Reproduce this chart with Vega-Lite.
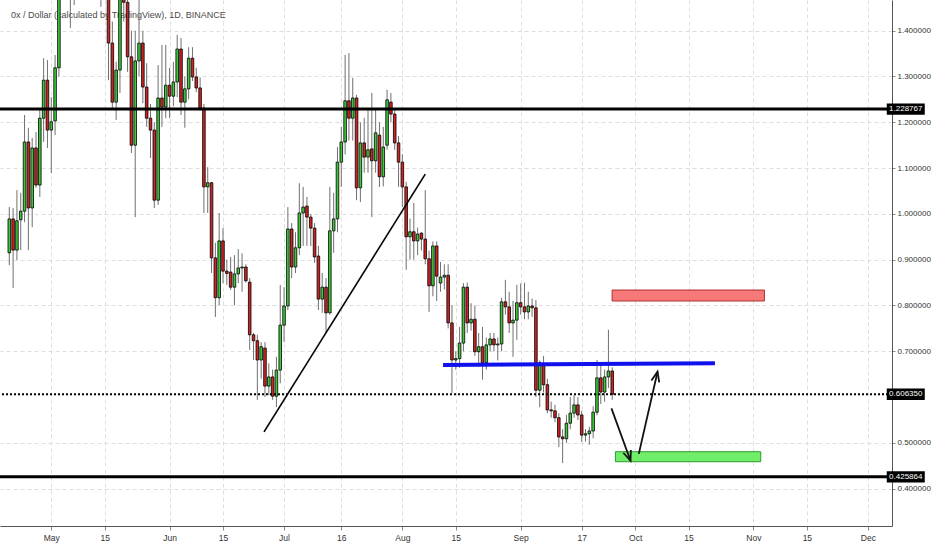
{
"$schema": "https://vega.github.io/schema/vega-lite/v6.json",
"width": 892, "height": 526,
"autosize": {"type": "none"},
"padding": {"left": 0, "top": 0, "right": 40, "bottom": 24},
"background": "white",
"config": {"view": {"stroke": null}, "font": "Liberation Sans"},
"datasets": {
"candles": [
{"t":"2018-04-20","o":0.915,"h":1.015,"l":0.888,"c":0.989},
{"t":"2018-04-21","o":0.989,"h":1.013,"l":0.838,"c":0.921},
{"t":"2018-04-22","o":0.921,"h":1.052,"l":0.899,"c":0.985},
{"t":"2018-04-23","o":0.987,"h":1.046,"l":0.921,"c":1.006},
{"t":"2018-04-24","o":1.006,"h":1.216,"l":0.982,"c":1.157},
{"t":"2018-04-25","o":1.157,"h":1.188,"l":0.921,"c":1.013},
{"t":"2018-04-26","o":1.013,"h":1.166,"l":0.971,"c":1.144},
{"t":"2018-04-27","o":1.144,"h":1.179,"l":1.057,"c":1.063},
{"t":"2018-04-28","o":1.063,"h":1.227,"l":1.037,"c":1.209},
{"t":"2018-04-29","o":1.209,"h":1.340,"l":1.157,"c":1.292},
{"t":"2018-04-30","o":1.292,"h":1.336,"l":1.144,"c":1.183},
{"t":"2018-05-01","o":1.183,"h":1.255,"l":1.089,"c":1.201},
{"t":"2018-05-02","o":1.203,"h":1.347,"l":1.172,"c":1.319},
{"t":"2018-05-03","o":1.319,"h":1.60,"l":1.30,"c":1.55},
{"t":"2018-05-04","o":1.55,"h":1.85,"l":1.50,"c":1.75},
{"t":"2018-05-05","o":1.75,"h":2.10,"l":1.70,"c":2.00},
{"t":"2018-05-06","o":2.00,"h":2.20,"l":1.406,"c":1.85},
{"t":"2018-05-07","o":1.85,"h":2.30,"l":1.456,"c":2.10},
{"t":"2018-05-08","o":2.10,"h":2.45,"l":2.00,"c":2.30},
{"t":"2018-05-09","o":2.30,"h":2.40,"l":2.05,"c":2.15},
{"t":"2018-05-10","o":2.15,"h":2.25,"l":1.90,"c":2.00},
{"t":"2018-05-11","o":2.00,"h":2.10,"l":1.80,"c":1.90},
{"t":"2018-05-12","o":1.90,"h":1.95,"l":1.70,"c":1.80},
{"t":"2018-05-13","o":1.80,"h":1.85,"l":1.60,"c":1.70},
{"t":"2018-05-14","o":1.70,"h":1.75,"l":1.452,"c":1.62},
{"t":"2018-05-15","o":1.62,"h":1.66,"l":1.48,"c":1.50},
{"t":"2018-05-16","o":1.50,"h":1.55,"l":1.292,"c":1.373},
{"t":"2018-05-17","o":1.373,"h":1.42,"l":1.227,"c":1.244},
{"t":"2018-05-18","o":1.244,"h":1.332,"l":1.205,"c":1.314},
{"t":"2018-05-19","o":1.314,"h":1.55,"l":1.264,"c":1.50},
{"t":"2018-05-20","o":1.50,"h":1.55,"l":1.42,"c":1.462},
{"t":"2018-05-21","o":1.462,"h":1.48,"l":1.310,"c":1.343},
{"t":"2018-05-22","o":1.343,"h":1.40,"l":1.133,"c":1.150},
{"t":"2018-05-23","o":1.150,"h":1.40,"l":0.993,"c":1.334},
{"t":"2018-05-24","o":1.334,"h":1.47,"l":1.30,"c":1.373},
{"t":"2018-05-25","o":1.373,"h":1.40,"l":1.242,"c":1.277},
{"t":"2018-05-26","o":1.277,"h":1.329,"l":1.190,"c":1.209},
{"t":"2018-05-27","o":1.209,"h":1.24,"l":1.122,"c":1.183},
{"t":"2018-05-28","o":1.183,"h":1.20,"l":1.013,"c":1.030},
{"t":"2018-05-29","o":1.030,"h":1.325,"l":1.02,"c":1.253},
{"t":"2018-05-30","o":1.253,"h":1.369,"l":1.190,"c":1.233},
{"t":"2018-05-31","o":1.233,"h":1.369,"l":1.209,"c":1.281},
{"t":"2018-06-01","o":1.281,"h":1.319,"l":1.209,"c":1.257},
{"t":"2018-06-02","o":1.257,"h":1.332,"l":1.235,"c":1.288},
{"t":"2018-06-03","o":1.288,"h":1.391,"l":1.255,"c":1.360},
{"t":"2018-06-04","o":1.360,"h":1.384,"l":1.216,"c":1.244},
{"t":"2018-06-05","o":1.244,"h":1.30,"l":1.188,"c":1.273},
{"t":"2018-06-06","o":1.273,"h":1.364,"l":1.25,"c":1.340},
{"t":"2018-06-07","o":1.340,"h":1.364,"l":1.29,"c":1.299},
{"t":"2018-06-08","o":1.299,"h":1.319,"l":1.266,"c":1.275},
{"t":"2018-06-09","o":1.275,"h":1.298,"l":1.226,"c":1.231},
{"t":"2018-06-10","o":1.231,"h":1.24,"l":1.002,"c":1.059},
{"t":"2018-06-11","o":1.059,"h":1.102,"l":1.002,"c":1.068},
{"t":"2018-06-12","o":1.068,"h":1.07,"l":0.871,"c":0.904},
{"t":"2018-06-13","o":0.904,"h":0.937,"l":0.775,"c":0.817},
{"t":"2018-06-14","o":0.817,"h":1.002,"l":0.801,"c":0.941},
{"t":"2018-06-15","o":0.941,"h":0.969,"l":0.849,"c":0.875},
{"t":"2018-06-16","o":0.875,"h":0.90,"l":0.845,"c":0.870},
{"t":"2018-06-17","o":0.873,"h":0.906,"l":0.834,"c":0.840},
{"t":"2018-06-18","o":0.840,"h":0.910,"l":0.801,"c":0.869},
{"t":"2018-06-19","o":0.869,"h":0.923,"l":0.849,"c":0.882},
{"t":"2018-06-20","o":0.882,"h":0.914,"l":0.830,"c":0.884},
{"t":"2018-06-21","o":0.884,"h":0.89,"l":0.85,"c":0.854},
{"t":"2018-06-22","o":0.851,"h":0.86,"l":0.703,"c":0.736},
{"t":"2018-06-23","o":0.736,"h":0.74,"l":0.681,"c":0.723},
{"t":"2018-06-24","o":0.723,"h":0.736,"l":0.594,"c":0.681},
{"t":"2018-06-25","o":0.681,"h":0.72,"l":0.64,"c":0.710},
{"t":"2018-06-26","o":0.707,"h":0.72,"l":0.600,"c":0.624},
{"t":"2018-06-27","o":0.624,"h":0.674,"l":0.604,"c":0.644},
{"t":"2018-06-28","o":0.644,"h":0.66,"l":0.594,"c":0.602},
{"t":"2018-06-29","o":0.602,"h":0.688,"l":0.578,"c":0.659},
{"t":"2018-06-30","o":0.659,"h":0.845,"l":0.63,"c":0.757},
{"t":"2018-07-01","o":0.757,"h":0.84,"l":0.72,"c":0.799},
{"t":"2018-07-02","o":0.799,"h":1.015,"l":0.79,"c":0.967},
{"t":"2018-07-03","o":0.967,"h":0.98,"l":0.86,"c":0.884},
{"t":"2018-07-04","o":0.884,"h":0.96,"l":0.871,"c":0.926},
{"t":"2018-07-05","o":0.926,"h":1.067,"l":0.91,"c":1.002},
{"t":"2018-07-06","o":1.002,"h":1.059,"l":0.93,"c":1.015},
{"t":"2018-07-07","o":1.017,"h":1.037,"l":0.93,"c":0.993},
{"t":"2018-07-08","o":0.993,"h":1.00,"l":0.93,"c":0.969},
{"t":"2018-07-09","o":0.969,"h":0.98,"l":0.893,"c":0.906},
{"t":"2018-07-10","o":0.908,"h":0.93,"l":0.790,"c":0.814},
{"t":"2018-07-11","o":0.814,"h":0.871,"l":0.784,"c":0.840},
{"t":"2018-07-12","o":0.840,"h":0.86,"l":0.740,"c":0.784},
{"t":"2018-07-13","o":0.784,"h":1.059,"l":0.78,"c":0.963},
{"t":"2018-07-14","o":0.963,"h":1.046,"l":0.915,"c":0.989},
{"t":"2018-07-15","o":0.989,"h":1.146,"l":0.96,"c":1.113},
{"t":"2018-07-16","o":1.113,"h":1.19,"l":1.059,"c":1.157},
{"t":"2018-07-17","o":1.157,"h":1.347,"l":1.13,"c":1.247},
{"t":"2018-07-18","o":1.247,"h":1.351,"l":1.16,"c":1.209},
{"t":"2018-07-19","o":1.209,"h":1.297,"l":1.16,"c":1.253},
{"t":"2018-07-20","o":1.253,"h":1.26,"l":1.030,"c":1.057},
{"t":"2018-07-21","o":1.057,"h":1.20,"l":1.026,"c":1.155},
{"t":"2018-07-22","o":1.155,"h":1.21,"l":1.09,"c":1.124},
{"t":"2018-07-23","o":1.124,"h":1.227,"l":1.09,"c":1.140},
{"t":"2018-07-24","o":1.142,"h":1.264,"l":0.993,"c":1.116},
{"t":"2018-07-25","o":1.116,"h":1.227,"l":1.09,"c":1.177},
{"t":"2018-07-26","o":1.172,"h":1.20,"l":1.059,"c":1.081},
{"t":"2018-07-27","o":1.081,"h":1.19,"l":1.06,"c":1.146},
{"t":"2018-07-28","o":1.150,"h":1.271,"l":1.14,"c":1.249},
{"t":"2018-07-29","o":1.244,"h":1.264,"l":1.20,"c":1.218},
{"t":"2018-07-30","o":1.218,"h":1.23,"l":1.14,"c":1.155},
{"t":"2018-07-31","o":1.155,"h":1.17,"l":1.059,"c":1.113},
{"t":"2018-08-01","o":1.113,"h":1.13,"l":1.015,"c":1.059},
{"t":"2018-08-02","o":1.059,"h":1.07,"l":0.878,"c":0.950},
{"t":"2018-08-03","o":0.950,"h":0.99,"l":0.90,"c":0.961},
{"t":"2018-08-04","o":0.961,"h":1.024,"l":0.90,"c":0.941},
{"t":"2018-08-05","o":0.941,"h":0.97,"l":0.91,"c":0.956},
{"t":"2018-08-06","o":0.958,"h":0.96,"l":0.92,"c":0.945},
{"t":"2018-08-07","o":0.945,"h":1.052,"l":0.89,"c":0.902},
{"t":"2018-08-08","o":0.902,"h":0.92,"l":0.786,"c":0.843},
{"t":"2018-08-09","o":0.843,"h":0.94,"l":0.82,"c":0.930},
{"t":"2018-08-10","o":0.930,"h":0.94,"l":0.81,"c":0.864},
{"t":"2018-08-11","o":0.849,"h":0.895,"l":0.83,"c":0.862},
{"t":"2018-08-12","o":0.862,"h":0.89,"l":0.835,"c":0.866},
{"t":"2018-08-13","o":0.866,"h":0.89,"l":0.75,"c":0.762},
{"t":"2018-08-14","o":0.762,"h":0.801,"l":0.609,"c":0.681},
{"t":"2018-08-15","o":0.681,"h":0.70,"l":0.66,"c":0.684},
{"t":"2018-08-16","o":0.684,"h":0.753,"l":0.664,"c":0.718},
{"t":"2018-08-17","o":0.718,"h":0.849,"l":0.70,"c":0.840},
{"t":"2018-08-18","o":0.840,"h":0.85,"l":0.740,"c":0.762},
{"t":"2018-08-19","o":0.762,"h":0.805,"l":0.745,"c":0.770},
{"t":"2018-08-20","o":0.770,"h":0.80,"l":0.69,"c":0.699},
{"t":"2018-08-21","o":0.699,"h":0.74,"l":0.667,"c":0.710},
{"t":"2018-08-22","o":0.710,"h":0.753,"l":0.638,"c":0.675},
{"t":"2018-08-23","o":0.675,"h":0.73,"l":0.66,"c":0.714},
{"t":"2018-08-24","o":0.714,"h":0.74,"l":0.70,"c":0.727},
{"t":"2018-08-25","o":0.727,"h":0.74,"l":0.70,"c":0.714},
{"t":"2018-08-26","o":0.714,"h":0.73,"l":0.680,"c":0.716},
{"t":"2018-08-27","o":0.716,"h":0.817,"l":0.70,"c":0.808},
{"t":"2018-08-28","o":0.808,"h":0.856,"l":0.780,"c":0.797},
{"t":"2018-08-29","o":0.797,"h":0.830,"l":0.740,"c":0.762},
{"t":"2018-08-30","o":0.762,"h":0.810,"l":0.688,"c":0.768},
{"t":"2018-08-31","o":0.768,"h":0.845,"l":0.725,"c":0.806},
{"t":"2018-09-01","o":0.806,"h":0.848,"l":0.780,"c":0.797},
{"t":"2018-09-02","o":0.797,"h":0.850,"l":0.770,"c":0.786},
{"t":"2018-09-03","o":0.786,"h":0.830,"l":0.770,"c":0.799},
{"t":"2018-09-04","o":0.799,"h":0.815,"l":0.775,"c":0.795},
{"t":"2018-09-05","o":0.795,"h":0.812,"l":0.600,"c":0.615},
{"t":"2018-09-06","o":0.615,"h":0.680,"l":0.578,"c":0.675},
{"t":"2018-09-07","o":0.670,"h":0.690,"l":0.610,"c":0.627},
{"t":"2018-09-08","o":0.627,"h":0.64,"l":0.565,"c":0.572},
{"t":"2018-09-09","o":0.572,"h":0.59,"l":0.555,"c":0.570},
{"t":"2018-09-10","o":0.570,"h":0.583,"l":0.545,"c":0.555},
{"t":"2018-09-11","o":0.555,"h":0.565,"l":0.491,"c":0.513},
{"t":"2018-09-12","o":0.513,"h":0.53,"l":0.456,"c":0.509},
{"t":"2018-09-13","o":0.509,"h":0.561,"l":0.50,"c":0.543},
{"t":"2018-09-14","o":0.543,"h":0.60,"l":0.53,"c":0.565},
{"t":"2018-09-15","o":0.565,"h":0.604,"l":0.555,"c":0.583},
{"t":"2018-09-16","o":0.583,"h":0.60,"l":0.55,"c":0.561},
{"t":"2018-09-17","o":0.561,"h":0.57,"l":0.502,"c":0.517},
{"t":"2018-09-18","o":0.517,"h":0.53,"l":0.503,"c":0.520},
{"t":"2018-09-19","o":0.520,"h":0.535,"l":0.496,"c":0.526},
{"t":"2018-09-20","o":0.526,"h":0.58,"l":0.51,"c":0.567},
{"t":"2018-09-21","o":0.567,"h":0.681,"l":0.56,"c":0.642},
{"t":"2018-09-22","o":0.642,"h":0.67,"l":0.585,"c":0.611},
{"t":"2018-09-23","o":0.611,"h":0.66,"l":0.59,"c":0.644},
{"t":"2018-09-24","o":0.644,"h":0.747,"l":0.62,"c":0.657},
{"t":"2018-09-25","o":0.657,"h":0.665,"l":0.594,"c":0.606}
],
"levels": [{"p":1.228767,"s":"solid"},{"p":0.60635,"s":"dot"},{"p":0.425864,"s":"solid"}],
"segs": [
{"k":"blue","t":"2018-08-11T16:00:00Z","p":0.670,"t2":"2018-10-21T22:00:00Z","p2":0.674},
{"k":"trend","t":"2018-06-25T18:00:00Z","p":0.524,"t2":"2018-08-07T00:00:00Z","p2":1.087},
{"k":"arrow","t":"2018-09-24T19:00:00Z","p":0.5755,"t2":"2018-09-29T19:00:00Z","p2":0.461},
{"k":"arrow","t":"2018-10-01T23:00:00Z","p":0.476,"t2":"2018-10-06T21:00:00Z","p2":0.6555}
],
"heads": [
{"t":"2018-09-29T19:00:00Z","p":0.461,"a":340},
{"t":"2018-10-06T21:00:00Z","p":0.6555,"a":193}
],
"zones": [
{"k":"sell","t":"2018-09-24T23:00:00Z","t2":"2018-11-03T21:00:00Z","p":0.8338,"p2":0.8098},
{"k":"buy","t":"2018-09-25T20:00:00Z","t2":"2018-11-02T22:00:00Z","p":0.4808,"p2":0.4589}
],
"ttl": [{"t":"2018-04-20T10:00:00Z","p":1.434,"s":"0x / Dollar (calculated by TradingView), 1D, BINANCE"}]
},
"layer": [
{"data":{"name":"ttl"},"mark":{"type":"text","align":"left","baseline":"middle","fontSize":9,"color":"#4a4a4a"},
 "encoding":{"x":{"field":"t","type":"temporal","title":null,"scale":{"type":"utc","domain":[{"year":2018,"month":4,"date":18,"hours":21,"utc":true},{"year":2018,"month":12,"date":6,"utc":true}]},
   "axis":{"values":[{"year":2018,"month":5,"date":1,"utc":true},{"year":2018,"month":5,"date":15,"utc":true},{"year":2018,"month":6,"date":1,"utc":true},{"year":2018,"month":6,"date":15,"utc":true},{"year":2018,"month":7,"date":1,"utc":true},{"year":2018,"month":7,"date":16,"utc":true},{"year":2018,"month":8,"date":1,"utc":true},{"year":2018,"month":8,"date":15,"utc":true},{"year":2018,"month":9,"date":1,"utc":true},{"year":2018,"month":9,"date":17,"utc":true},{"year":2018,"month":10,"date":1,"utc":true},{"year":2018,"month":10,"date":15,"utc":true},{"year":2018,"month":11,"date":1,"utc":true},{"year":2018,"month":11,"date":15,"utc":true},{"year":2018,"month":12,"date":1,"utc":true}],
     "labelExpr":"utcdate(datum.value) == 1 ? utcFormat(datum.value, '%b') : utcFormat(datum.value, '%-d')",
     "grid":true,"gridDash":[4,3],"gridColor":"#dedede","domainColor":"#555555","tickColor":"#888888","tickSize":4,"labelFontSize":8.5,"labelColor":"#333333","labelPadding":3,"labelFlush":false,"labelOverlap":false}},
  "y":{"field":"p","type":"quantitative","title":null,"scale":{"domain":[0.31855,1.46703],"nice":false,"zero":false},
   "axis":{"orient":"right","values":[0.4,0.5,0.7,0.8,0.9,1.0,1.1,1.2,1.3,1.4],"format":".6f","grid":true,"gridDash":[4,3],"gridColor":"#dedede","domainColor":"#555555","tickColor":"#888888","tickSize":3,"labelFontSize":8,"labelColor":"#333333","labelPadding":2}},
  "text":{"field":"s"}}},
{"data":{"name":"candles"},"mark":{"type":"rule","color":"#707070","strokeWidth":1,"clip":true},
 "encoding":{"x":{"field":"t","type":"temporal","title":null},"y":{"field":"l","type":"quantitative","title":null},"y2":{"field":"h"}}},
{"data":{"name":"candles"},"mark":{"type":"bar","width":2.6,"stroke":"#000000","strokeWidth":0.8,"clip":true},
 "encoding":{"x":{"field":"t","type":"temporal","title":null},"y":{"field":"o","type":"quantitative","title":null},"y2":{"field":"c"},
  "fill":{"condition":{"test":"datum.c >= datum.o","value":"#3ec83a"},"value":"#d22222"}}},
{"data":{"name":"levels"},"transform":[{"filter":"datum.s == 'solid'"}],"mark":{"type":"rule","color":"#000000","strokeWidth":3},
 "encoding":{"y":{"field":"p","type":"quantitative","title":null}}},
{"data":{"name":"levels"},"transform":[{"filter":"datum.s == 'dot'"}],"mark":{"type":"rule","color":"#000000","strokeWidth":2,"strokeDash":[2,2]},
 "encoding":{"y":{"field":"p","type":"quantitative","title":null}}},
{"data":{"name":"segs"},"transform":[{"filter":"datum.k == 'trend'"}],"mark":{"type":"rule","color":"#000000","strokeWidth":1.6},
 "encoding":{"x":{"field":"t","type":"temporal","title":null},"x2":{"field":"t2"},"y":{"field":"p","type":"quantitative","title":null},"y2":{"field":"p2"}}},
{"data":{"name":"segs"},"transform":[{"filter":"datum.k == 'blue'"}],"mark":{"type":"rule","color":"#1111ee","strokeWidth":4},
 "encoding":{"x":{"field":"t","type":"temporal","title":null},"x2":{"field":"t2"},"y":{"field":"p","type":"quantitative","title":null},"y2":{"field":"p2"}}},
{"data":{"name":"zones"},"transform":[{"filter":"datum.k == 'sell'"}],"mark":{"type":"rect","fill":"#f67878","stroke":"#b03030","strokeWidth":1},
 "encoding":{"x":{"field":"t","type":"temporal","title":null},"x2":{"field":"t2"},"y":{"field":"p","type":"quantitative","title":null},"y2":{"field":"p2"}}},
{"data":{"name":"zones"},"transform":[{"filter":"datum.k == 'buy'"}],"mark":{"type":"rect","fill":"#70ee6a","stroke":"#2f9a2f","strokeWidth":1},
 "encoding":{"x":{"field":"t","type":"temporal","title":null},"x2":{"field":"t2"},"y":{"field":"p","type":"quantitative","title":null},"y2":{"field":"p2"}}},
{"data":{"name":"segs"},"transform":[{"filter":"datum.k == 'arrow'"}],"mark":{"type":"rule","color":"#111111","strokeWidth":1.8},
 "encoding":{"x":{"field":"t","type":"temporal","title":null},"x2":{"field":"t2"},"y":{"field":"p","type":"quantitative","title":null},"y2":{"field":"p2"}}},
{"data":{"name":"heads"},"mark":{"type":"point","shape":"M-0.8,-2L0,0L0.8,-2","filled":false,"stroke":"#111111","strokeWidth":1.8,"size":100,"opacity":1},
 "encoding":{"x":{"field":"t","type":"temporal","title":null},"y":{"field":"p","type":"quantitative","title":null},"angle":{"field":"a","type":"quantitative","scale":null}}},
{"data":{"name":"levels"},"mark":{"type":"point","shape":"M-1,-0.3L1,-0.3L1,0.3L-1,0.3Z","filled":true,"fill":"#000000","stroke":null,"size":1444,"opacity":1,"clip":false},
 "encoding":{"x":{"datum":{"year":2018,"month":12,"date":10,"hours":22,"utc":true},"type":"temporal"},"y":{"field":"p","type":"quantitative","title":null}}},
{"data":{"name":"levels"},"mark":{"type":"text","color":"#ffffff","fontSize":8,"align":"center","baseline":"middle","clip":false},
 "encoding":{"x":{"datum":{"year":2018,"month":12,"date":10,"hours":22,"utc":true},"type":"temporal"},"y":{"field":"p","type":"quantitative","title":null},"text":{"field":"p","type":"quantitative","format":".6f"}}}
]
}
